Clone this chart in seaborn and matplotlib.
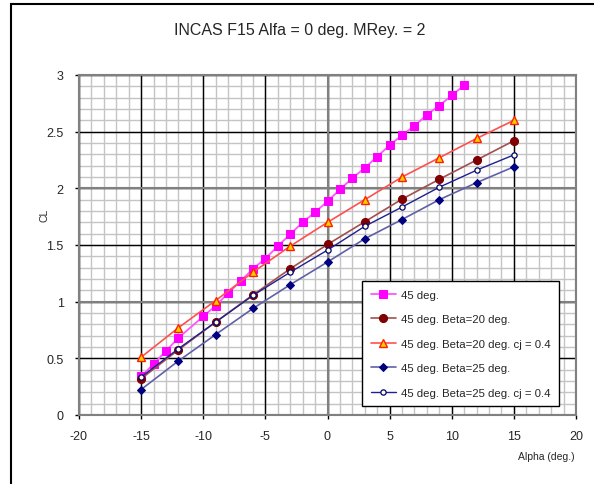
import numpy as np
import pandas as pd
import seaborn as sns
import matplotlib
matplotlib.use("Agg")
import matplotlib.pyplot as plt
from matplotlib.patches import Rectangle

# Lift coefficient versus angle of attack
alpha_45 = [-15, -14, -13, -12, -10, -9, -8, -7, -6, -5, -4, -3, -2, -1,
            0, 1, 2, 3, 4, 5, 6, 7, 8, 9, 10, 11]
cl_45 = [0.34, 0.45, 0.565, 0.68, 0.87, 0.965, 1.075, 1.18, 1.29, 1.38, 1.49,
         1.595, 1.70, 1.79, 1.885, 1.99, 2.09, 2.18, 2.28, 2.38, 2.47, 2.55,
         2.65, 2.73, 2.82, 2.91]

alpha_beta = [-15, -12, -9, -6, -3, 0, 3, 6, 9, 12, 15]
cl_b20 = [0.32, 0.575, 0.82, 1.06, 1.29, 1.505, 1.705, 1.905, 2.08, 2.25, 2.42]
cl_b20_cj = [0.51, 0.77, 1.01, 1.26, 1.49, 1.70, 1.90, 2.10, 2.27, 2.44, 2.60]
cl_b25 = [0.225, 0.477, 0.71, 0.94, 1.15, 1.35, 1.555, 1.725, 1.90, 2.05, 2.19]
cl_b25_cj = [0.335, 0.585, 0.82, 1.055, 1.26, 1.455, 1.665, 1.835, 2.01, 2.16, 2.295]

labels = ["45 deg.",
          "45 deg. Beta=20 deg.",
          "45 deg. Beta=20 deg. cj = 0.4",
          "45 deg. Beta=25 deg.",
          "45 deg. Beta=25 deg. cj = 0.4"]

x_ticks = [-20, -15, -10, -5, 0, 5, 10, 15, 20]
y_ticks = [0, 0.5, 1, 1.5, 2, 2.5, 3]

frames = [
    pd.DataFrame({"alpha": alpha_45, "cl": cl_45, "series": labels[0]}),
    pd.DataFrame({"alpha": alpha_beta, "cl": cl_b20, "series": labels[1]}),
    pd.DataFrame({"alpha": alpha_beta, "cl": cl_b20_cj, "series": labels[2]}),
    pd.DataFrame({"alpha": alpha_beta, "cl": cl_b25, "series": labels[3]}),
    pd.DataFrame({"alpha": alpha_beta, "cl": cl_b25_cj, "series": labels[4]}),
]
df = pd.concat(frames, ignore_index=True)

sns.set_theme(style="white")
plt.rcParams["font.family"] = ["Liberation Sans", "DejaVu Sans"]

fig = plt.figure(figsize=(5.94, 4.85), dpi=100)
ax = fig.add_axes([79 / 594, 1 - 416 / 485, 497 / 594, 340 / 485])

# Grid: light minor, black major, grey at whole units
for xv in np.arange(-20, 21, 1):
    ax.axvline(xv, color="#c4c4c4", lw=1.0, zorder=0)
for yv in np.arange(0, 3.01, 0.1):
    ax.axhline(yv, color="#c4c4c4", lw=1.0, zorder=0)
for xv in x_ticks:
    ax.axvline(xv, color="black", lw=1.0, zorder=0.5)
for yv in y_ticks:
    ax.axhline(yv, color="black", lw=1.0, zorder=0.5)
for xv in [-20, 0, 20]:
    ax.axvline(xv, color="#808080", lw=1.5, zorder=0.6)
for yv in [0, 1, 2, 3]:
    ax.axhline(yv, color="#808080", lw=1.5, zorder=0.6)

styles = {
    labels[0]: dict(color="#ff55ff", marker="s", markersize=5.3,
                    markerfacecolor="#ff00ff", markeredgecolor="#ff00ff",
                    linewidth=1.3),
    labels[1]: dict(color="#a05050", marker="o", markersize=5.8,
                    markerfacecolor="#800000", markeredgecolor="#800000",
                    linewidth=1.2),
    labels[2]: dict(color="#ff5050", marker="^", markersize=5.6,
                    markerfacecolor="#ffcc00", markeredgecolor="#ff2000",
                    markeredgewidth=1.0, linewidth=1.2),
    labels[3]: dict(color="#6060a8", marker="D", markersize=4.0,
                    markerfacecolor="#000080", markeredgecolor="#000080",
                    linewidth=1.2),
    labels[4]: dict(color="#202090", marker="o", markersize=3.8,
                    markerfacecolor="#ffffcc", markeredgecolor="#000080",
                    markeredgewidth=0.9, linewidth=1.0),
}

for name in labels:
    sub = df[df["series"] == name]
    sns.lineplot(data=sub, x="alpha", y="cl", ax=ax, label=name,
                 estimator=None, sort=True, zorder=3, **styles[name])

ax.set_xlim(-20, 20)
ax.set_ylim(0, 3)
ax.set_xticks(x_ticks)
ax.set_yticks(y_ticks)
ax.set_xticklabels([f"{v:g}" for v in x_ticks])
ax.set_yticklabels([f"{v:g}" for v in y_ticks])
ax.tick_params(axis="both", which="major", direction="out", length=3,
               width=1, color="black", labelsize=9, pad=8, bottom=True, left=True)
for s in ax.spines.values():
    s.set_color("#808080")
    s.set_linewidth(1.5)
ax.set_xlabel("")
ax.set_ylabel("")

fig.text(575 / 594, 1 - 457 / 485, "Alpha (deg.)", ha="right", va="center",
         fontsize=7.5)
fig.text(45 / 594, 1 - 215 / 485, "CL", ha="center", va="center",
         rotation=90, fontsize=7.5)
fig.text(300 / 594, 1 - 30 / 485, "INCAS F15 Alfa = 0 deg. MRey. = 2",
         ha="center", va="center", fontsize=11.5)

leg = ax.legend(loc="upper left", bbox_to_anchor=(362 / 594, 1 - 282 / 485),
                bbox_transform=fig.transFigure, borderaxespad=0, fontsize=8.2,
                frameon=True, fancybox=False, shadow=False, framealpha=1,
                edgecolor="black", handlelength=2.2, handletextpad=0.45,
                labelspacing=1.28, borderpad=0.75)
leg.get_frame().set_linewidth(1.0)
leg.set_zorder(5)

# Outer chart border
fig.patches.append(Rectangle((11 / 594, -0.2), 1.2, 1.2 - 5 / 485,
                             transform=fig.transFigure, fill=False,
                             edgecolor="black", lw=1.5))

fig.savefig("out.png", dpi=100, facecolor="white")
